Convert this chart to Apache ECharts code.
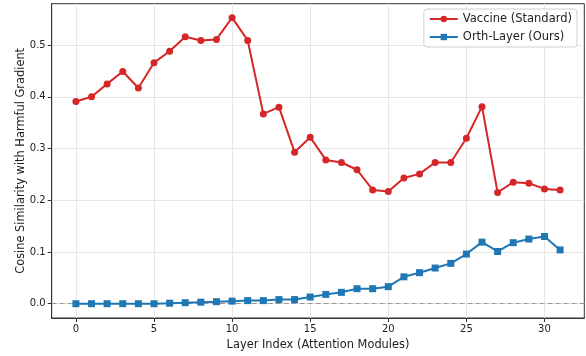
<!DOCTYPE html>
<html><head><meta charset="utf-8">
<script src="https://cdn.jsdelivr.net/npm/echarts@6/dist/echarts.min.js"></script>
<style>html,body{margin:0;padding:0;background:#fff}#c{width:586px;height:356px}</style>
</head><body><div id="c"></div>
<script>
const layers = [0,1,2,3,4,5,6,7,8,9,10,11,12,13,14,15,16,17,18,19,20,21,22,23,24,25,26,27,28,29,30,31];
const vaccine = [0.391,0.400,0.425,0.449,0.417,0.466,0.488,0.516,0.509,0.511,0.553,0.509,0.367,0.380,0.293,0.322,0.278,0.273,0.259,0.220,0.217,0.243,0.251,0.273,0.273,0.320,0.381,0.215,0.235,0.233,0.222,0.220];
const orth = [0.000,0.000,0.000,0.000,0.000,0.000,0.001,0.002,0.003,0.004,0.005,0.006,0.006,0.008,0.008,0.013,0.018,0.022,0.029,0.029,0.033,0.052,0.060,0.069,0.078,0.096,0.119,0.101,0.118,0.125,0.130,0.104];
const xTicks = [0,5,10,15,20,25,30];
const yTicks = [0,0.1,0.2,0.3,0.4,0.5];
const seriesNames = ['Vaccine (Standard)','Orth-Layer (Ours)'];
const xTitle = 'Layer Index (Attention Modules)';
const yTitle = 'Cosine Similarity with Harmful Gradient';

const font = 'DejaVu Sans';
const chart = echarts.init(document.getElementById('c'), null, {renderer:'canvas'});
chart.setOption({
  animation:false,
  backgroundColor:'#fff',
  grid:{left:51.7,right:1.7,top:3.7,bottom:35.3,show:true,borderColor:'#333',borderWidth:1,containLabel:false},
  legend:{
    right:9, top:9, orient:'vertical',
    data:seriesNames,
    itemWidth:28, itemHeight:8, itemGap:6,
    textStyle:{fontFamily:font,fontSize:11.5,color:'#222'},
    borderColor:'#d0d0d0', borderWidth:1, borderRadius:3,
    padding:[4,5,4,5], backgroundColor:'rgba(255,255,255,0.85)'
  },
  xAxis:{
    type:'value', min:-1.55, max:32.55,
    name:xTitle, nameLocation:'middle', nameGap:22, nameMoveOverlap:false,
    nameTextStyle:{fontFamily:font,fontSize:11.4,color:'#222'},
    axisLine:{show:true,onZero:false,lineStyle:{color:'#333',width:1}},
    axisTick:{show:true,length:4,customValues:xTicks,lineStyle:{color:'#333'}},
    axisLabel:{customValues:xTicks,fontFamily:font,fontSize:10,color:'#222',margin:6},
    splitLine:{show:true,lineStyle:{color:'#e6e6e6',width:1}}
  },
  yAxis:{
    type:'value', min:-0.0276, max:0.58,
    name:yTitle, nameLocation:'middle', nameGap:25, nameRotate:90, nameMoveOverlap:false,
    nameTextStyle:{fontFamily:font,fontSize:11.4,color:'#222'},
    axisLine:{show:true,onZero:false,lineStyle:{color:'#333',width:1}},
    axisTick:{show:true,length:4,customValues:yTicks,lineStyle:{color:'#333'}},
    axisLabel:{customValues:yTicks,fontFamily:font,fontSize:10,color:'#222',margin:6,formatter:v=>v.toFixed(1)},
    splitLine:{show:true,lineStyle:{color:'#e6e6e6',width:1}}
  },
  series:[
    {name:seriesNames[0],type:'line',data:layers.map((x,i)=>[x,vaccine[i]]),
     symbol:'circle',symbolSize:7,color:'#d62728',lineStyle:{width:2,color:'#d62728'},itemStyle:{color:'#d62728'},z:3,
     markLine:{silent:true,symbol:'none',label:{show:false},lineStyle:{color:'#999',type:[5,3],width:1.2},data:[{yAxis:0}],z:1}},
    {name:seriesNames[1],type:'line',data:layers.map((x,i)=>[x,orth[i]]),
     symbol:'rect',symbolSize:7,color:'#1f77b4',lineStyle:{width:2,color:'#1f77b4'},itemStyle:{color:'#1f77b4'},z:4}
  ]
});
</script></body></html>
